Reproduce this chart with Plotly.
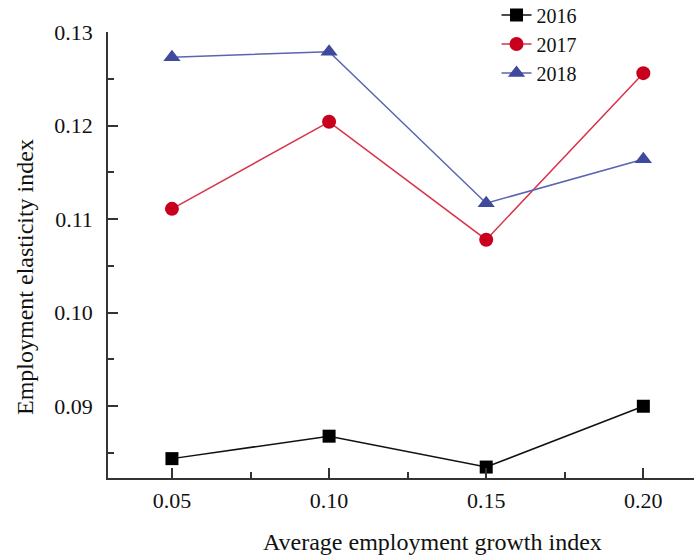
import plotly.graph_objects as go

x_vals = [0.05, 0.10, 0.15, 0.20]
x_ticklabels = ["0.05", "0.10", "0.15", "0.20"]
y_tickvals = [0.09, 0.10, 0.11, 0.12, 0.13]
y_ticklabels = ["0.09", "0.10", "0.11", "0.12", "0.13"]

s2016 = [0.0844, 0.0868, 0.0835, 0.0900]
s2017 = [0.1111, 0.1204, 0.1078, 0.1256]
s2018 = [0.1273, 0.1279, 0.1117, 0.1164]

FONT = "Liberation Serif"

fig = go.Figure()
fig.add_trace(go.Scatter(x=x_vals, y=s2016, name="2016", mode="lines+markers",
                         line=dict(color="#111111", width=1.5),
                         marker=dict(symbol="square", size=13, color="#000000")))
fig.add_trace(go.Scatter(x=x_vals, y=s2017, name="2017", mode="lines+markers",
                         line=dict(color="#d8334a", width=1.5),
                         marker=dict(symbol="circle", size=14, color="#c8001e")))
fig.add_trace(go.Scatter(x=x_vals, y=s2018, name="2018", mode="lines+markers",
                         line=dict(color="#5a64b0", width=1.5),
                         marker=dict(symbol="triangle-up", size=15, color="#3f4a9e")))

fig.update_layout(
    width=694, height=555,
    margin=dict(l=108, r=0, t=32, b=77, autoexpand=False),
    paper_bgcolor="white", plot_bgcolor="white",
    font=dict(family=FONT, size=22, color="#111111"),
    showlegend=True,
    legend=dict(x=0.663, y=1.082, xanchor="left", yanchor="top",
                bgcolor="rgba(0,0,0,0)", font=dict(family=FONT, size=20),
                itemwidth=30, tracegroupgap=0),
    xaxis=dict(range=[0.02965, 0.21612], tickvals=x_vals, ticktext=x_ticklabels,
               showline=True, linecolor="#333333", linewidth=1.5,
               ticks="inside", ticklen=10, tickwidth=1.5, tickcolor="#333333",
               showgrid=False, zeroline=False, automargin=False,
               minor=dict(tickvals=[0.075, 0.125, 0.175], ticks="inside", ticklen=6,
                          tickwidth=1.5, tickcolor="#333333", showgrid=False),
               tickfont=dict(size=22), ticklabelstandoff=2),
    yaxis=dict(range=[0.08233, 0.13], tickvals=y_tickvals, ticktext=y_ticklabels,
               showline=True, linecolor="#333333", linewidth=1.5,
               ticks="inside", ticklen=10, tickwidth=1.5, tickcolor="#333333",
               showgrid=False, zeroline=False, automargin=False,
               minor=dict(tickvals=[0.085, 0.095, 0.105, 0.115, 0.125], ticks="inside",
                          ticklen=6, tickwidth=1.5, tickcolor="#333333", showgrid=False),
               tickfont=dict(size=22), ticklabelstandoff=9),
    annotations=[
        dict(text="Average employment growth index", xref="paper", yref="paper",
             x=(432 - 108) / 586, y=-(541.5 - 478) / 446, xanchor="center", yanchor="middle",
             showarrow=False, font=dict(family=FONT, size=24)),
        dict(text="Employment elasticity index", xref="paper", yref="paper",
             x=-(108 - 25) / 586, y=(478 - 277) / 446, xanchor="center", yanchor="middle",
             textangle=-90, showarrow=False, font=dict(family=FONT, size=24)),
    ],
)

fig.write_html("out.html", config={"displayModeBar": False},
               post_script="document.body.style.margin='0';document.body.style.overflow='hidden';")
